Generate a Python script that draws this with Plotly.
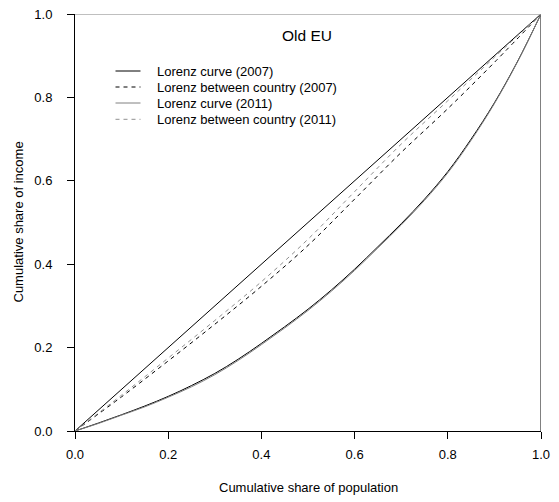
import plotly.graph_objects as go

# ---- data ----
pop_share = [0, 0.05, 0.1, 0.15, 0.2, 0.25, 0.3, 0.35, 0.4, 0.45, 0.5,
             0.55, 0.6, 0.65, 0.7, 0.75, 0.8, 0.85, 0.9, 0.95, 1.0]
lorenz_2007 = [0, 0.019, 0.039, 0.060, 0.083, 0.109, 0.138, 0.172, 0.210, 0.250, 0.292,
               0.338, 0.388, 0.442, 0.497, 0.556, 0.622, 0.700, 0.787, 0.887, 1.0]
lorenz_2011 = [0, 0.018, 0.038, 0.058, 0.081, 0.106, 0.135, 0.169, 0.207, 0.247, 0.289,
               0.335, 0.385, 0.439, 0.494, 0.553, 0.619, 0.697, 0.785, 0.886, 1.0]

pop_share_bc = [0, 0.1, 0.2, 0.3, 0.4, 0.5, 0.6, 0.7, 0.8, 0.9, 1.0]
between_2007 = [0, 0.082, 0.168, 0.256, 0.347, 0.445, 0.556, 0.668, 0.773, 0.884, 1.0]
between_2011 = [0, 0.086, 0.175, 0.265, 0.358, 0.460, 0.574, 0.688, 0.792, 0.896, 1.0]

equality_x = [0, 1]
equality_y = [0, 1]
top_x = [0, 1]
top_y = [1, 1]
right_x = [1, 1]
right_y = [0, 1]

tick_vals = [0, 0.2, 0.4, 0.6, 0.8, 1.0]
tick_text = ["0.0", "0.2", "0.4", "0.6", "0.8", "1.0"]

legend_labels = ["Lorenz curve (2007)", "Lorenz between country (2007)",
                 "Lorenz curve (2011)", "Lorenz between country (2011)"]
series_colors = ["#000000", "#000000", "#808080", "#909090"]
series_dash = ["solid", "4px,4px", "solid", "4px,4px"]

FONT = "Liberation Sans, Arial, sans-serif"

fig = go.Figure()

# reference lines
fig.add_trace(go.Scatter(x=equality_x, y=equality_y, mode="lines",
                         line=dict(color="#000000", width=1), showlegend=False))
fig.add_trace(go.Scatter(x=top_x, y=top_y, mode="lines",
                         line=dict(color="#808080", width=1), showlegend=False))
fig.add_trace(go.Scatter(x=right_x, y=right_y, mode="lines",
                         line=dict(color="#000000", width=1), showlegend=False))

series = [(pop_share, lorenz_2007), (pop_share_bc, between_2007),
          (pop_share, lorenz_2011), (pop_share_bc, between_2011)]
for (xs, ys), name, col, dash in zip(series, legend_labels, series_colors, series_dash):
    fig.add_trace(go.Scatter(x=xs, y=ys, mode="lines", name=name,
                             line=dict(color=col, width=1, dash=dash, shape="spline", smoothing=1.0),
                             showlegend=False, cliponaxis=False))

# manual legend (R-style)
L, T, W, H = 75, 14, 466, 417
def px_to_paper_x(px):
    return (px - L) / W
def px_to_paper_y(py):
    return (T + H - py) / H

row_y = [71, 87, 103, 119.3]
shapes = []
annotations = []
for name, col, dash, ry in zip(legend_labels, series_colors, series_dash, row_y):
    shapes.append(dict(type="line", xref="paper", yref="paper",
                       x0=px_to_paper_x(115.5), x1=px_to_paper_x(140.5),
                       y0=px_to_paper_y(ry), y1=px_to_paper_y(ry),
                       line=dict(color=col, width=1, dash=dash)))
    annotations.append(dict(text=name, xref="paper", yref="paper",
                            x=px_to_paper_x(155), y=px_to_paper_y(ry),
                            xanchor="left", yanchor="middle", showarrow=False,
                            font=dict(family=FONT, size=13, color="#000000")))

annotations.append(dict(text="Old EU", xref="paper", yref="paper",
                        x=px_to_paper_x(307), y=px_to_paper_y(35),
                        xanchor="center", yanchor="middle", showarrow=False,
                        font=dict(family=FONT, size=15.5, color="#000000")))
annotations.append(dict(text="Cumulative share of population", xref="paper", yref="paper",
                        x=0.5, y=px_to_paper_y(487),
                        xanchor="center", yanchor="middle", showarrow=False,
                        font=dict(family=FONT, size=13, color="#000000")))
annotations.append(dict(text="Cumulative share of income", xref="paper", yref="paper",
                        x=px_to_paper_x(18), y=0.5, textangle=-90,
                        xanchor="center", yanchor="middle", showarrow=False,
                        font=dict(family=FONT, size=13, color="#000000")))

axis_common = dict(range=[0, 1], tickvals=tick_vals, ticktext=tick_text,
                   showgrid=False, zeroline=False, showline=True, linecolor="#000000",
                   linewidth=1, ticks="outside", ticklen=7, tickwidth=1, tickcolor="#000000",
                   tickfont=dict(family=FONT, size=13, color="#000000"), mirror=False,
                   automargin=False)

fig.update_layout(
    width=559, height=502,
    margin=dict(l=L, r=559 - L - W, t=T, b=502 - T - H, pad=0, autoexpand=False),
    paper_bgcolor="white", plot_bgcolor="white",
    xaxis=dict(**axis_common, ticklabelstandoff=4),
    yaxis=dict(**axis_common, ticklabelstandoff=12),
    shapes=shapes, annotations=annotations, showlegend=False,
)

fig.write_html(
    "out.html",
    config={"displayModeBar": False},
    post_script="document.body.style.margin='0';document.body.style.padding='0';"
                "document.body.style.overflow='hidden';",
)
